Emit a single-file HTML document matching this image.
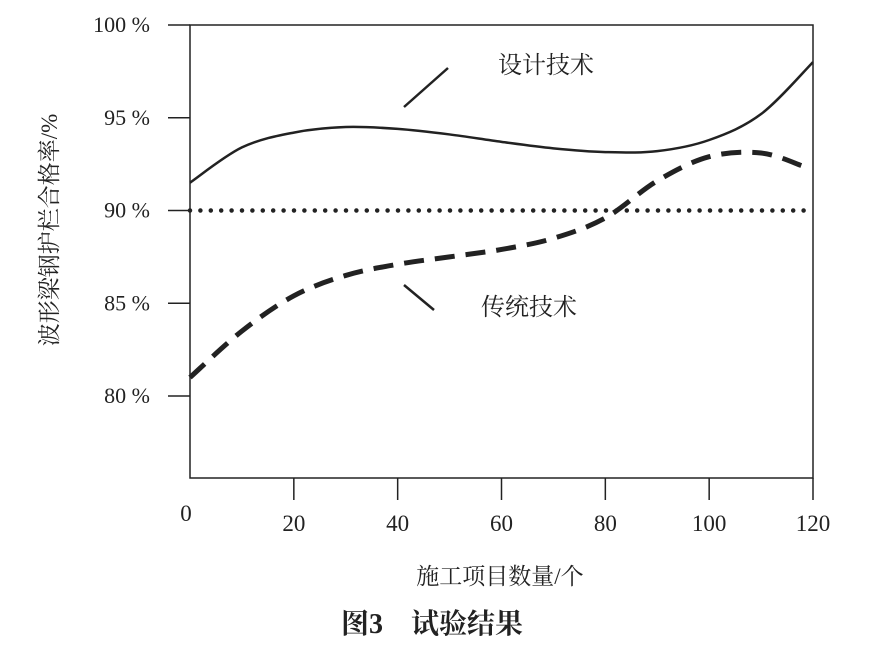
<!DOCTYPE html>
<html><head><meta charset="utf-8"><style>
body{margin:0;background:#fff}
svg text{font-family:"Liberation Serif","Noto Serif CJK SC",serif;fill:#222}
.cjk{font-family:"Liberation Serif","Noto Serif CJK SC","Noto Sans CJK SC",serif}
</style></head><body>
<svg id="chart" width="877" height="645" viewBox="0 0 877 645">
<g id="axes"></g>
<g id="series"></g>
<text x="546" y="73" class="cjk" font-size="24" text-anchor="middle">设计技术</text>
<line x1="404" y1="107" x2="448" y2="68" stroke="#222" stroke-width="2.5"/>
<text x="529" y="315" class="cjk" font-size="24" text-anchor="middle">传统技术</text>
<line x1="404" y1="285" x2="434" y2="310" stroke="#222" stroke-width="2.5"/>
<text transform="translate(57,230) rotate(-90)" class="cjk" font-size="23" text-anchor="middle">波形梁钢护栏合格率/%</text>
<text x="500" y="584" class="cjk" font-size="23" text-anchor="middle">施工项目数量/个</text>
<text x="432" y="633" class="cjk" font-size="28" font-weight="bold" text-anchor="middle">图3　试验结果</text>
</svg>
<script>
const xTicks=[0,20,40,60,80,100,120];
const yTicks=[100,95,90,85,80];
const yTickLabels=["100 %","95 %","90 %","85 %","80 %"];
const designX=[0,10,20,30,40,50,60,70,80,90,100,110,120];
const designY=[91.5,93.4,94.2,94.5,94.4,94.1,93.7,93.35,93.15,93.2,93.8,95.2,98.0];
const tradX=[0,10,20,30,40,50,60,70,80,90,100,110,118];
const tradY=[81.0,83.5,85.4,86.5,87.1,87.5,87.9,88.5,89.6,91.6,92.9,93.1,92.4];
const refX=[0,120];
const refY=[90,90];
const NS="http://www.w3.org/2000/svg";
const L=190,R=813,T=25,B=478;
const sx=v=>L+(v-0)/(120-0)*(R-L);
const sy=v=>25+(100-v)*(396-25)/20;
function mk(tag,attrs,parent){const e=document.createElementNS(NS,tag);for(const k in attrs)e.setAttribute(k,attrs[k]);parent.appendChild(e);return e;}
const ax=document.getElementById('axes');
const fr=mk('rect',{x:L,y:T,width:R-L,height:B-T,fill:'none',stroke:'#222','stroke-width':1.5},ax);


yTicks.forEach((v,i)=>{
 const t=mk('line',{x1:168,x2:L,y1:sy(v),y2:sy(v),stroke:'#222','stroke-width':1.5},ax);
 
 
 const tx=mk('text',{x:150,y:sy(v)+7,'font-size':22,'text-anchor':'end'},ax);
 tx.textContent=yTickLabels[i];
 
 
});
xTicks.forEach((v,i)=>{
 if(i>0){const t=mk('line',{x1:sx(v),x2:sx(v),y1:B,y2:500,stroke:'#222','stroke-width':1.5},ax);
 
 }
 const tx=mk('text',{x:i==0?186:sx(v),y:i==0?521:531,'font-size':23,'text-anchor':'middle'},ax);
 tx.textContent=String(v);
 
 
});
function smooth(xs,ys){
 const p=xs.map((x,i)=>[sx(x),sy(ys[i])]);
 let d='M'+p[0][0]+','+p[0][1];
 for(let i=0;i<p.length-1;i++){
  const p0=p[Math.max(0,i-1)],p1=p[i],p2=p[i+1],p3=p[Math.min(p.length-1,i+2)];
  d+=' C'+(p1[0]+(p2[0]-p0[0])/6)+','+(p1[1]+(p2[1]-p0[1])/6)+' '+(p2[0]-(p3[0]-p1[0])/6)+','+(p2[1]-(p3[1]-p1[1])/6)+' '+p2[0]+','+p2[1];
 }
 return d;
}
const sg=document.getElementById('series');
const d1=mk('path',{d:smooth(designX,designY),fill:'none',stroke:'#222','stroke-width':2.5},sg);


const d2=mk('path',{d:smooth(tradX,tradY),fill:'none',stroke:'#222','stroke-width':5,'stroke-dasharray':'20 11'},sg);


const d3=mk('path',{d:'M'+sx(refX[0])+','+sy(refY[0])+' L'+sx(refX[1])+','+sy(refY[1]),fill:'none',stroke:'#222','stroke-width':4.5,'stroke-linecap':'round','stroke-dasharray':'0 10.4'},sg);


</script>
</body></html>
